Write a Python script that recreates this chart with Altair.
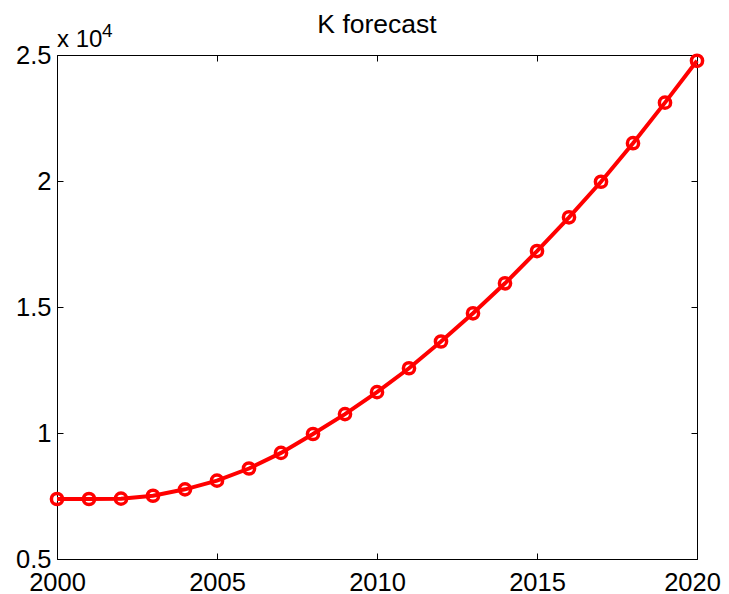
import altair as alt
import pandas as pd

years = list(range(2000, 2021))
k_values = [7380, 7380, 7395, 7510, 7765, 8110, 8590, 9210, 9960, 10750, 11620,
            12570, 13630, 14750, 15940, 17220, 18560, 19970, 21500, 23110, 24770]
x_ticks = [2000, 2005, 2010, 2015, 2020]
y_ticks = [5000, 10000, 15000, 20000, 25000]
title_text = "K forecast"
exp_base = "x 10"
exp_power = "4"

df = pd.DataFrame({"year": years, "K": k_values})

FONT = "Liberation Sans"
W, H = 640, 504
RED = "#ff0000"

xscale = alt.Scale(domain=[2000, 2020], nice=False, zero=False)
yscale = alt.Scale(domain=[5000, 25000], nice=False, zero=False)

inward = {"expr": "-6"}

x_bottom = alt.Axis(orient="bottom", values=x_ticks, format="d", title=None,
                    labelFont=FONT, labelFontSize=25.5, labelColor="black",
                    labelFlush=False, labelOverlap=False, labelBound=False,
                    labelOffset={"condition": {"test": "datum.value == 2020", "value": -5},
                                 "value": 0},
                    tickSize=inward, labelPadding=17, tickColor="black",
                    domainColor="black", grid=False)
y_left = alt.Axis(orient="left", values=y_ticks, labelExpr="datum.value / 10000",
                  title=None, labelFont=FONT, labelFontSize=25.5, labelColor="black",
                  labelFlush=False, labelOverlap=False, labelBound=False,
                  tickSize=inward, labelPadding=12, tickColor="black",
                  domainColor="black", grid=False)
x_top = alt.Axis(orient="top", values=x_ticks, labels=False, title=None,
                 tickSize=inward, tickColor="black", domainColor="black", grid=False)
y_right = alt.Axis(orient="right", values=y_ticks, labels=False, title=None,
                   tickSize=inward, tickColor="black", domainColor="black", grid=False)

base = alt.Chart(df)

line = base.mark_line(color=RED, strokeWidth=4).encode(
    x=alt.X("year:Q", scale=xscale, axis=x_bottom),
    y=alt.Y("K:Q", scale=yscale, axis=y_left),
)

points = base.mark_point(shape="circle", filled=False, color=RED, size=125,
                         strokeWidth=3.5, opacity=1).encode(
    x=alt.X("year:Q", scale=xscale, axis=x_top),
    y=alt.Y("K:Q", scale=yscale, axis=y_right),
)

txt_df = pd.DataFrame({"base": [exp_base], "power": [exp_power], "title": [title_text]})
exp_text = alt.Chart(txt_df).mark_text(
    font=FONT, fontSize=24, align="left", baseline="alphabetic", color="black"
).encode(text="base:N", x=alt.value(0), y=alt.value(-8))
exp_pow = alt.Chart(txt_df).mark_text(
    font=FONT, fontSize=19, align="left", baseline="alphabetic", color="black"
).encode(text="power:N", x=alt.value(45), y=alt.value(-18))
title_mark = alt.Chart(txt_df).mark_text(
    font=FONT, fontSize=26.5, align="center", baseline="alphabetic", color="black"
).encode(text="title:N", x=alt.value(W / 2), y=alt.value(-22))

chart = alt.layer(line, points, exp_text, exp_pow, title_mark).resolve_axis(
    x="independent", y="independent"
).resolve_scale(x="shared", y="shared").properties(
    width=W, height=H,
    autosize=alt.AutoSizeParams(type="none"),
    padding={"left": 49, "top": 47, "right": 24, "bottom": 33},
).configure_view(stroke=None).configure(background="white")

chart.save("out.html", embed_options={"renderer": "svg", "actions": False})
